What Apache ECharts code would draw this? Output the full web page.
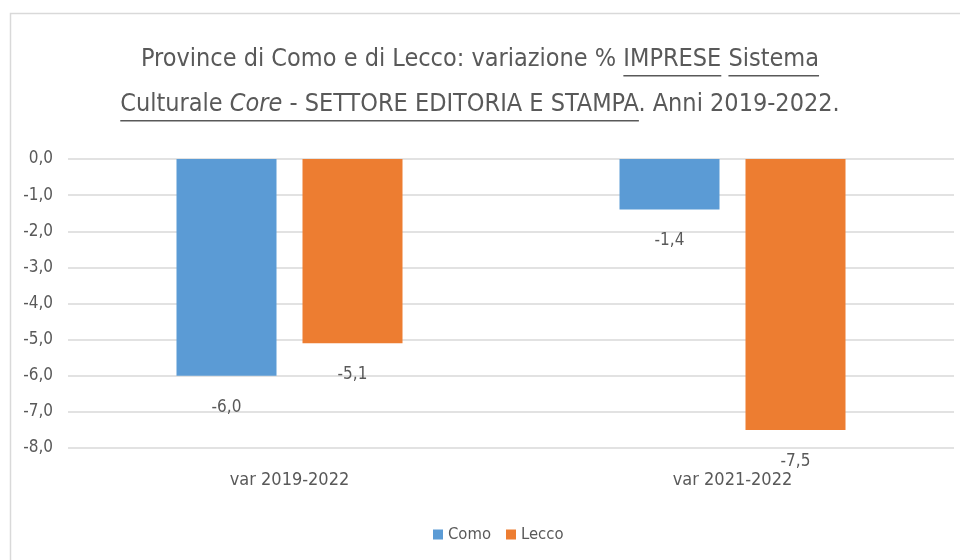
<!DOCTYPE html>
<html>
<head>
<meta charset="utf-8">
<script src="https://cdn.jsdelivr.net/npm/echarts@6/dist/echarts.min.js"></script>
<style>html,body{margin:0;padding:0;background:#fff}#c{width:960px;height:560px}</style>
</head>
<body>
<div id="c"></div>
<script>
const categories = ['var 2019-2022', 'var 2021-2022'];
const como = [-6.0, -1.4];
const lecco = [-5.1, -7.5];
const seriesNames = ['Como', 'Lecco'];

const FONT = "'DejaVu Sans Condensed', sans-serif";
const TXT = '#595959';
const TS = 25;
const fmt = v => v.toFixed(1).replace('.', ',');

const cv = document.createElement('canvas').getContext('2d');
function w(t, italic) { cv.font = (italic ? 'italic ' : '') + TS + 'px ' + FONT; return cv.measureText(t).width; }
const l1a = 'Province di Como e di Lecco: variazione % ', l1b = 'IMPRESE', l1c = ' ', l1d = 'Sistema';
const l2a = 'Culturale ', l2b = 'Core', l2c = ' - SETTORE EDITORIA E STAMPA', l2d = '. Anni 2019-2022.';
const W1 = w(l1a + l1b + l1c + l1d);
const x1 = 480 - W1 / 2;
const W2 = w(l2a) + w(l2b, true) + w(l2c + l2d);
const x2 = 480 - W2 / 2;
const TOP = 32, LH = 45;
const u1y = TOP + LH / 2 + TS * 0.62 + 5, u2y = u1y + LH;

const chart = echarts.init(document.getElementById('c'), null, {renderer: 'canvas'});
const labelOpt = {
  show: true, position: 'bottom', distance: 23,
  fontFamily: FONT, fontSize: 17, color: TXT,
  formatter: p => fmt(p.value)
};
chart.setOption({
  animation: false,
  title: {
    text: '{a|' + l1a + l1b + l1c + l1d + '}\n{a|' + l2a + '}{i|' + l2b + '}{a|' + l2c + l2d + '}',
    left: 'center', top: TOP,
    textStyle: {
      fontWeight: 'normal',
      rich: {
        a: {fontFamily: FONT, fontSize: TS, color: TXT, lineHeight: LH, fontWeight: 'normal'},
        i: {fontFamily: FONT, fontSize: TS, color: TXT, lineHeight: LH, fontWeight: 'normal', fontStyle: 'italic'}
      }
    }
  },
  legend: {
    bottom: 12, left: 428,
    itemWidth: 10, itemHeight: 10, itemGap: 15,
    icon: 'rect',
    textStyle: {fontFamily: FONT, fontSize: 16.5, color: TXT},
    data: seriesNames
  },
  grid: {left: 68, right: 6, top: 159, bottom: 112},
  xAxis: {
    type: 'category', data: categories, position: 'bottom',
    axisLine: {show: false, onZero: false}, axisTick: {show: false},
    axisLabel: {fontFamily: FONT, fontSize: 18, color: TXT, margin: 23}
  },
  yAxis: {
    type: 'value', min: -8, max: 0, interval: 1,
    axisLine: {show: false}, axisTick: {show: false},
    axisLabel: {fontFamily: FONT, fontSize: 17, color: TXT, margin: 15, formatter: v => fmt(v)},
    splitLine: {lineStyle: {color: '#d9d9d9', width: 1.5}}
  },
  series: [
    {name: seriesNames[0], type: 'bar', data: como, barWidth: 100, barGap: '26%',
     itemStyle: {color: '#5B9BD5'}, label: labelOpt},
    {name: seriesNames[1], type: 'bar', data: lecco, barWidth: 100,
     itemStyle: {color: '#ED7D31'}, label: labelOpt}
  ],
  graphic: [
    {type: 'rect', silent: true, shape: {x: 10.5, y: 13.5, width: 1000, height: 700},
     style: {fill: null, stroke: '#d9d9d9', lineWidth: 1.5}},
    {type: 'rect', silent: true, shape: {x: x1 + w(l1a), y: u1y, width: w(l1b), height: 1.5}, style: {fill: TXT}},
    {type: 'rect', silent: true, shape: {x: x1 + w(l1a + l1b + l1c), y: u1y, width: w(l1d), height: 1.5}, style: {fill: TXT}},
    {type: 'rect', silent: true, shape: {x: x2, y: u2y, width: w(l2a) + w(l2b, true) + w(l2c), height: 1.5}, style: {fill: TXT}}
  ]
});
</script>
</body>
</html>
